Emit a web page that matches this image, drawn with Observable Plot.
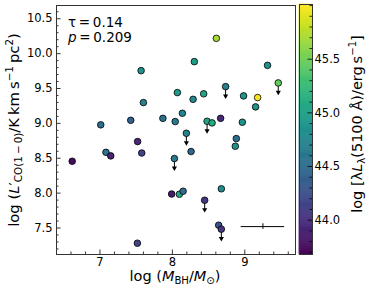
<!DOCTYPE html>
<html>
<head>
<meta charset="utf-8">
<script src="https://cdn.jsdelivr.net/npm/d3@7"></script>
<script src="https://cdn.jsdelivr.net/npm/@observablehq/plot@0.6"></script>
<style>
  html, body { margin: 0; padding: 0; background: #fff; }
  #wrap { position: relative; width: 366px; height: 291px; }
  #wrap svg { position: absolute; top: 0; overflow: visible; }
</style>
</head>
<body>
<div id="wrap"></div>
<script>
// ---- data ----
const logMBH = [7.568, 8.069, 7.600, 7.011, 7.425, 7.869, 8.039, 8.138, 8.607, 8.303,
                9.314, 9.462, 8.286, 8.432, 8.735, 8.983, 9.177, 9.149, 8.479, 8.548,
                8.666, 8.966, 8.193, 8.883, 6.617, 7.083, 7.149, 7.520, 7.577, 8.028,
                7.990, 8.097, 8.148, 7.517, 8.869, 8.258, 8.676, 8.446, 8.639, 8.676];
const logLCO = [9.756, 9.441, 9.298, 8.979, 9.044, 9.072, 9.026, 9.145, 10.219, 9.885,
                9.832, 9.580, 9.345, 9.424, 9.527, 9.394, 9.370, 9.236, 9.030, 9.007,
                9.072, 9.016, 8.858, 8.782, 8.457, 8.585, 8.534, 8.739, 8.575, 8.496,
                7.987, 7.984, 8.027, 7.282, 8.672, 8.596, 8.062, 7.898, 7.540, 7.483];
const logL5100 = [44.85, 44.95, 44.70, 44.50, 44.40, 44.55, 44.62, 44.70, 45.70, 44.97,
                  44.85, 45.45, 44.78, 45.05, 44.68, 44.90, 45.97, 44.85, 45.05, 45.10,
                  43.95, 44.85, 44.72, 44.50, 43.75, 44.55, 43.90, 43.95, 44.15, 44.62,
                  43.85, 45.05, 44.50, 44.15, 44.85, 44.45, 44.80, 44.05, 44.25, 44.05];
const upperLimit = [0,0,0,0,0,0,0,0,0,0, 0,1,0,0,1,0,0,0,1,0, 0,0,1,0,0,0,0,0,0,1, 0,0,0,0,0,0,0,1,0,1];
// typical error bar
const errX = [9.25], errY = [7.52], errXw = [0.3], errYw = [0.04];
// statistics
const tauText = "0.14", pText = "0.209";
// axes
const xTicks = [7, 8, 9];
const yTicks = [7.5, 8.0, 8.5, 9.0, 9.5, 10.0, 10.5];
const cTicks = [44.0, 44.5, 45.0, 45.5];
const xDomain = [6.4, 9.7], yDomain = [7.12, 10.69], cDomain = [43.68, 46.01];

// ---- build ----
const data = logMBH.map((x, i) => ({x, y: logLCO[i], c: logL5100[i], up: !!upperLimit[i]}));
const ups = data.filter(d => d.up);
const err = errX.map((x, i) => ({x, y: errY[i], xe: errXw[i], ye: errYw[i]}));

const W = 366, H = 291, mL = 56, mR = 71, mT = 5, mB = 37;
const pw = W - mL - mR, ph = H - mT - mB;
const xMinor = d3.range(32, 49).map(i => i / 5).filter(v => !xTicks.includes(v));
const yMinor = d3.range(72, 107).map(i => i / 10).filter(v => !yTicks.some(t => Math.abs(t - v) < 1e-9));
const cMinor = d3.range(437, 461).map(i => i / 10).filter(v => !cTicks.some(t => Math.abs(t - v) < 1e-9));

const FONT = "DejaVu Sans";
const colorScale = {type: "linear", scheme: "viridis", domain: cDomain};

const main = Plot.plot({
  width: W, height: H,
  marginLeft: mL, marginRight: mR, marginTop: mT, marginBottom: mB,
  style: {fontFamily: FONT, fontSize: "11.5px", background: "transparent", color: "#000", overflow: "visible"},
  x: {domain: xDomain},
  y: {domain: yDomain},
  color: colorScale,
  marks: [
    Plot.axisX({ticks: xTicks, tickSize: 0, tickPadding: 3, label: null, tickFormat: d3.format("d")}),
    Plot.axisY({ticks: yTicks, tickSize: 0, tickPadding: 4, label: null, tickFormat: d3.format(".1f")}),
    Plot.tickX(xMinor, {x: d => d, insetTop: ph - 2.5, stroke: "#000", strokeWidth: 0.8}),
    Plot.tickX(xTicks, {x: d => d, insetTop: ph - 4.5, stroke: "#000", strokeWidth: 0.8}),
    Plot.tickY(yMinor, {y: d => d, insetRight: pw - 2.5, stroke: "#000", strokeWidth: 0.8}),
    Plot.tickY(yTicks, {y: d => d, insetRight: pw - 4.5, stroke: "#000", strokeWidth: 0.8}),
    Plot.ruleY(err, {y: "y", x1: d => d.x - d.xe, x2: d => d.x + d.xe, stroke: "#000", strokeWidth: 1}),
    Plot.ruleX(err, {x: "x", y1: d => d.y - d.ye, y2: d => d.y + d.ye, stroke: "#000", strokeWidth: 1}),
    Plot.ruleX(ups, {x: "x", y1: "y", y2: d => d.y - 0.13, stroke: "#000", strokeWidth: 1}),
    Plot.dot(ups, {x: "x", y: d => d.y - 0.135, symbol: "triangle", rotate: 180, r: 1.9, fill: "#000", stroke: "none"}),
    Plot.dot(data, {x: "x", y: "y", fill: "c", r: 3.3, stroke: "#000", strokeWidth: 0.8}),
    Plot.frame({stroke: "#333", strokeWidth: 1})
  ]
});
main.style.left = "0px";

// colorbar as its own small plot
const cbW = 71, cbML = 4, cbBar = 13, cbMR = cbW - cbML - cbBar;
const nSteps = 240;
const steps = d3.range(nSteps).map(i => {
  const a = cDomain[0] + (cDomain[1] - cDomain[0]) * i / nSteps;
  const b = cDomain[0] + (cDomain[1] - cDomain[0]) * (i + 1) / nSteps;
  return {a, b, m: (a + b) / 2};
});
const cbar = Plot.plot({
  width: cbW, height: H,
  marginLeft: cbML, marginRight: cbMR, marginTop: 4, marginBottom: mB,
  style: {fontFamily: FONT, fontSize: "11.5px", background: "transparent", color: "#000", overflow: "visible"},
  x: {domain: [0, 1], axis: null},
  y: {domain: cDomain},
  color: colorScale,
  marks: [
    Plot.rect(steps, {x1: 0, x2: 1, y1: "a", y2: "b", fill: "m", stroke: "m", strokeWidth: 0.6}),
    Plot.tickY(cMinor, {y: d => d, insetLeft: cbBar - 2.5, stroke: "#000", strokeWidth: 0.8}),
    Plot.tickY(cTicks, {y: d => d, insetLeft: cbBar - 4.5, stroke: "#000", strokeWidth: 0.8}),
    Plot.axisY({anchor: "right", ticks: cTicks, tickSize: 0, tickPadding: 2, label: null, tickFormat: d3.format(".1f")}),
    Plot.frame({stroke: "#333", strokeWidth: 1})
  ]
});
cbar.style.left = (W - mR) + "px";

const wrap = document.getElementById("wrap");
wrap.appendChild(main);
wrap.appendChild(cbar);

// rich text helper (sub/superscripts, italics)
function rich(svg, {x, y, rotate = 0, size, anchor = "middle"}, parts) {
  const t = d3.select(svg).append("text")
    .attr("transform", `translate(${x},${y}) rotate(${rotate})`)
    .attr("text-anchor", anchor)
    .attr("font-family", FONT)
    .attr("font-size", size)
    .attr("fill", "#000");
  let shift = 0;
  for (const p of parts) {
    const fs = p.sub || p.sup ? size * 0.7 : size;
    const target = p.sub ? size * 0.22 : p.sup ? -size * 0.38 : 0;
    t.append("tspan")
      .attr("dy", target - shift)
      .attr("font-size", fs)
      .attr("font-style", p.i ? "italic" : null)
      .text(p.t);
    shift = target;
  }
  return t;
}

// annotation
rich(main, {x: 68, y: 27, size: 13.5, anchor: "start"}, [{t: "τ\u2009=\u2009" + tauText}]);
rich(main, {x: 68, y: 41.5, size: 13.5, anchor: "start"}, [{t: "p", i: true}, {t: "\u2009=\u2009" + pText}]);

// x label
rich(main, {x: 175, y: 281, size: 14.5}, [
  {t: "log ("}, {t: "M", i: true}, {t: "BH", sub: true}, {t: "/"}, {t: "M", i: true}, {t: "⊙", sub: true}, {t: ")"}
]);
// y label
rich(main, {x: 19, y: 130, rotate: -90, size: 14.8}, [
  {t: "log ("}, {t: "L", i: true}, {t: "′"}, {t: "CO(1\u2009−\u20090)", sub: true},
  {t: "/K\u2009km\u2009s"}, {t: "−1", sup: true}, {t: "\u2009pc"}, {t: "2", sup: true}, {t: ")"}
]);
// colorbar label
rich(cbar, {x: 66.5, y: 124, rotate: -90, size: 14.5}, [
  {t: "log [λ"}, {t: "L", i: true}, {t: "λ", sub: true}, {t: "(5100 Å)/erg\u2009s"}, {t: "−1", sup: true}, {t: "]"}
]);
</script>
</body>
</html>
